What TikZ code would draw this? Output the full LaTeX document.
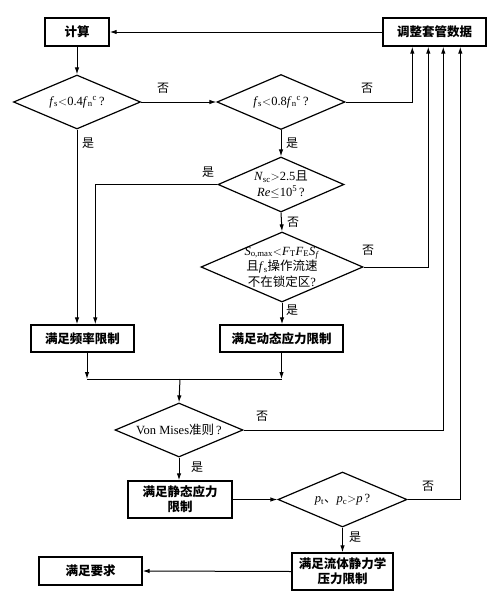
\documentclass[tikz,border=0pt]{standalone}
\usepackage{fontspec}
\setmainfont{Liberation Serif}
\newfontfamily\cjk{Noto Sans CJK SC}
\usetikzlibrary{shapes.geometric,arrows.meta}
\begin{document}
\begin{tikzpicture}[x=1pt,y=-1pt,
  box/.style={draw,line width=1.4pt,inner sep=0pt,font=\cjk\bfseries\fontsize{12.5}{15}\selectfont,align=center},
  dia/.style={draw,diamond,line width=1.2pt,inner sep=0pt},
  dtext/.style={font=\fontsize{12.5}{15.5}\selectfont,align=center,inner sep=0pt},
  lab/.style={font=\cjk\fontsize{12}{14}\selectfont,inner sep=0pt},
  arr/.style={line width=1pt,-{Latex[length=7pt,width=4.5pt]}},
  ln/.style={line width=1pt}]
\useasboundingbox (0,0) rectangle (496,616);
% boxes
\node[box,minimum width=64pt,minimum height=28pt] (calc) at (77,32) {计算};
\node[box,minimum width=103pt,minimum height=28pt] (adj) at (434.5,32) {调整套管数据};
\node[box,minimum width=103pt,minimum height=27pt] (freq) at (82.5,338.5) {满足频率限制};
\node[box,minimum width=123pt,minimum height=27pt] (dyn) at (281.5,338.5) {满足动态应力限制};
\node[box,minimum width=104pt,minimum height=37pt] (stat) at (180,499.5) {满足静态应力\\限制};
\node[box,minimum width=101pt,minimum height=37pt] (fluid) at (342.5,571.5) {满足流体静力学\\压力限制};
\node[box,minimum width=103pt,minimum height=28pt] (req) at (90.5,571) {满足要求};
% diamonds
\node[dia,minimum width=127pt,minimum height=54pt] (d1) at (77,102) {};
\node[dia,minimum width=128pt,minimum height=55pt] (d2) at (281,102) {};
\node[dia,minimum width=126pt,minimum height=55pt] (d3) at (281,184.5) {};
\node[dia,minimum width=162pt,minimum height=70pt] (d4) at (282,267) {};
\node[dia,minimum width=128pt,minimum height=54pt] (vm) at (179,430) {};
\node[dia,minimum width=129pt,minimum height=55pt] (dp) at (342.5,499.5) {};
% diamond texts
\node[dtext] (t1) at (d1) {\textit{f}\textsubscript{s}$<$0.4\textit{f}\textsubscript{n}\textsuperscript{c}\,?};
\node[dtext] (t2) at (d2) {\textit{f}\textsubscript{s}$<$0.8\textit{f}\textsubscript{n}\textsuperscript{c}\,?};
\node[dtext] (t3) at (d3) {\textit{N}\textsubscript{sc}$>$2.5{\cjk 且}\\\textit{Re}$\le$10\textsuperscript{5}\,?};
\node[dtext] (t4) at (d4) {\textit{S}\textsubscript{o,max}$<$\textit{F}\textsubscript{T}\textit{F}\textsubscript{E}\textit{S}\textsubscript{\textit{f}}\\{\cjk 且}\textit{f}\textsubscript{s}{\cjk 操作流速}\\{\cjk 不在锁定区}?};
\node[dtext] (t5) at (vm) {Von Mises{\cjk 准则}\,?};
\node[dtext] (t6) at (dp) {\textit{p}\textsubscript{t}{\cjk 、}\textit{p}\textsubscript{c}$>$\textit{p}\,?};
% junction
\coordinate (j) at (180,379);
% connectors
\draw[arr] (adj.west) -- (calc.east);
\draw[arr] (calc.south) -- (d1.north);
\draw[arr] (d1.east) -- (d2.west);
\draw[arr] (d2.east) -| ([xshift=30pt]adj.south west);
\draw[arr] (d1.south) -- (d1.south |- freq.north);
\draw[arr] (d2.south) -- (d3.north);
\draw[arr] (d3.west) -| ([xshift=65pt]freq.north west);
\draw[arr] (d3.south) -- (d4.north);
\draw[arr] (d4.east) -| ([xshift=46pt]adj.south west);
\draw[arr] (d4.south) -- (d4.south |- dyn.north);
\draw[arr] ([xshift=4.5pt]freq.south) -- ([xshift=4.5pt]freq.south |- j);
\draw[arr] (dyn.south) -- (dyn.south |- j);
\draw[ln] ([xshift=4.5pt]freq.south |- j) -- (dyn.south |- j);
\draw[arr] (j) -- (vm.north);
\draw[arr] (vm.east) -| ([xshift=61pt]adj.south west);
\draw[arr] (vm.south) -- (vm.south |- stat.north);
\draw[arr] (stat.east) -- (dp.west);
\draw[arr] (dp.east) -| ([xshift=78pt]adj.south west);
\draw[arr] (dp.south) -- (fluid.north);
\draw[arr] (fluid.west) -- (req.east);
% labels
\node[lab] (l1) at (163,88) {否};
\node[lab] (l2) at (367,88) {否};
\node[lab] (l3) at (88,143) {是};
\node[lab] (l4) at (292,143) {是};
\node[lab] (l5) at (208,172) {是};
\node[lab] (l6) at (293,222) {否};
\node[lab] (l7) at (368,250) {否};
\node[lab] (l8) at (292,310) {是};
\node[lab] (l9) at (262,416) {否};
\node[lab] (l10) at (197,467) {是};
\node[lab] (l11) at (428,486) {否};
\node[lab] (l12) at (355,537) {是};
\end{tikzpicture}
\end{document}
